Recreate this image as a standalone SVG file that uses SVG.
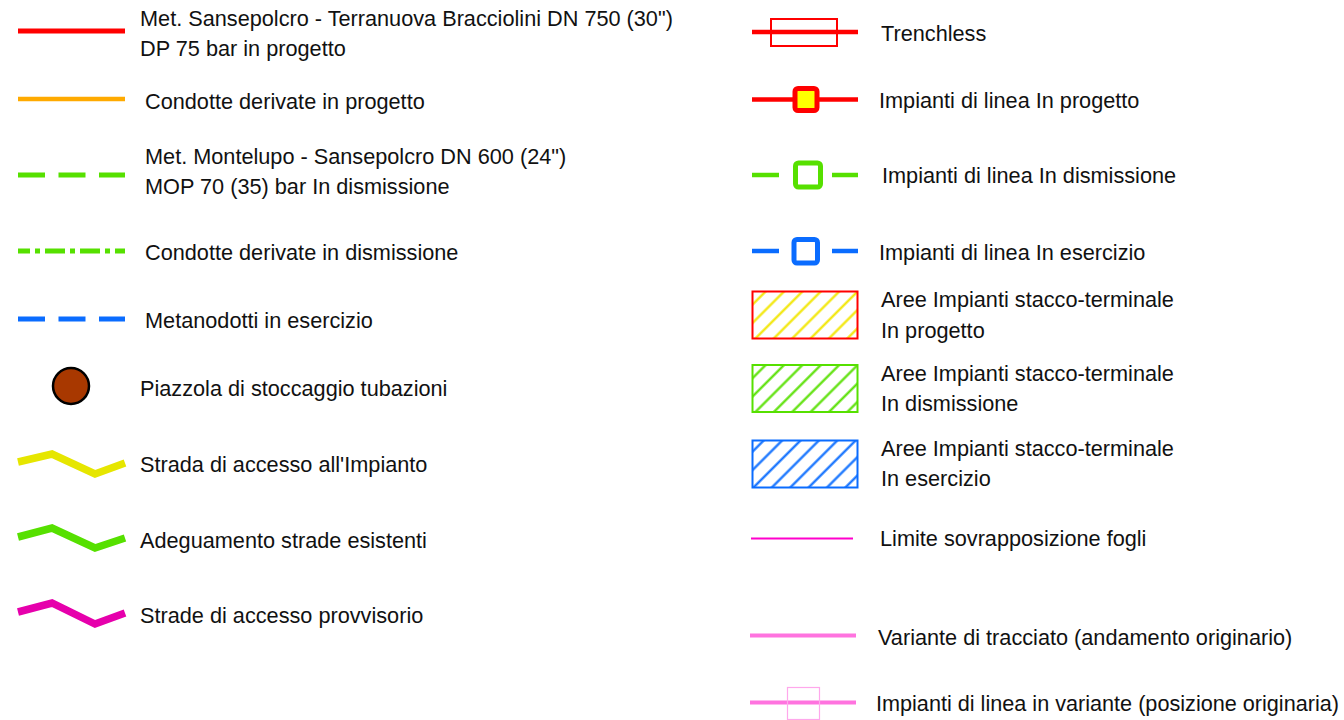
<svg xmlns="http://www.w3.org/2000/svg" width="1344" height="720" viewBox="0 0 1344 720">
<style>
text{font-family:"Liberation Sans",Arial,sans-serif;font-size:21.7px;fill:#111;}
.ln{fill:none;stroke-linecap:butt;}
.zig{fill:none;stroke-width:7.5;stroke-linejoin:miter;}
</style>
<defs>
<pattern id="hY" patternUnits="userSpaceOnUse" width="13" height="13" patternTransform="rotate(45)"><line x1="6.5" y1="-1" x2="6.5" y2="14" stroke="#f2e600" stroke-width="2.2"/></pattern>
<pattern id="hG" patternUnits="userSpaceOnUse" width="13" height="13" patternTransform="rotate(45)"><line x1="6.5" y1="-1" x2="6.5" y2="14" stroke="#56e000" stroke-width="2.2"/></pattern>
<pattern id="hB" patternUnits="userSpaceOnUse" width="13" height="13" patternTransform="rotate(45)"><line x1="6.5" y1="-1" x2="6.5" y2="14" stroke="#0a6cff" stroke-width="2.2"/></pattern>
</defs>
<rect width="1344" height="720" fill="#fff"/>

<g id="item-red-line">
<line class="ln" x1="18" y1="31" x2="125" y2="31" stroke="#ff0000" stroke-width="5"/>
<text x="140" y="26">Met. Sansepolcro - Terranuova Bracciolini DN 750 (30")</text>
<text x="140" y="56">DP 75 bar in progetto</text>
</g>
<g id="item-orange-line">
<line class="ln" x1="18" y1="99" x2="125" y2="99" stroke="#ffaa00" stroke-width="4.5"/>
<text x="145" y="109">Condotte derivate in progetto</text>
</g>
<g id="item-green-dash">
<line class="ln" x1="18" y1="175" x2="125" y2="175" stroke="#56e000" stroke-width="5" stroke-dasharray="27 13.5"/>
<text x="145" y="164">Met. Montelupo - Sansepolcro DN 600 (24")</text>
<text x="145" y="194">MOP 70 (35) bar In dismissione</text>
</g>
<g id="item-green-dashdot">
<line class="ln" x1="18" y1="251" x2="125" y2="251" stroke="#56e000" stroke-width="5" stroke-dasharray="20 5 5 5" stroke-dashoffset="8"/>
<text x="145" y="260">Condotte derivate in dismissione</text>
</g>
<g id="item-blue-dash">
<line class="ln" x1="18" y1="319" x2="125" y2="319" stroke="#0a6cff" stroke-width="5" stroke-dasharray="27 13.5"/>
<text x="145" y="328">Metanodotti in esercizio</text>
</g>
<g id="item-piazzola">
<circle cx="71" cy="386" r="18" fill="#a83800" stroke="#000" stroke-width="2.5"/>
<text x="140" y="396">Piazzola di stoccaggio tubazioni</text>
</g>
<g id="item-strada-accesso">
<polyline class="zig" points="18,462 52,454 95,474 125,463" stroke="#e6e600"/>
<text x="140" y="472">Strada di accesso all'Impianto</text>
</g>
<g id="item-adeguamento">
<polyline class="zig" points="18,537 52,528 95,548 125,538" stroke="#56e000"/>
<text x="140" y="548">Adeguamento strade esistenti</text>
</g>
<g id="item-provvisorio">
<polyline class="zig" points="18,612 52,603 95,624 125,613" stroke="#e600ac"/>
<text x="140" y="623">Strade di accesso provvisorio</text>
</g>

<g id="item-trenchless">
<line class="ln" x1="752" y1="32" x2="858" y2="32" stroke="#ff0000" stroke-width="4.5"/>
<rect x="771" y="19" width="66" height="27" fill="none" stroke="#ff0000" stroke-width="2"/>
<text x="881" y="41">Trenchless</text>
</g>
<g id="item-impianti-progetto">
<line class="ln" x1="752" y1="99.5" x2="858" y2="99.5" stroke="#ff0000" stroke-width="4.5"/>
<rect x="795" y="88.5" width="22" height="22" rx="3" fill="#ffff00" stroke="#ff0000" stroke-width="5"/>
<text x="879" y="108">Impianti di linea In progetto</text>
</g>
<g id="item-impianti-dismissione">
<line class="ln" x1="752" y1="175" x2="779" y2="175" stroke="#56e000" stroke-width="4.5"/>
<line class="ln" x1="832" y1="175" x2="858" y2="175" stroke="#56e000" stroke-width="4.5"/>
<rect x="795.5" y="163" width="25" height="24" rx="3" fill="#fff" stroke="#56e000" stroke-width="5"/>
<text x="882" y="183">Impianti di linea In dismissione</text>
</g>
<g id="item-impianti-esercizio">
<line class="ln" x1="752" y1="251" x2="779" y2="251" stroke="#0a6cff" stroke-width="4.5"/>
<line class="ln" x1="832" y1="251" x2="858" y2="251" stroke="#0a6cff" stroke-width="4.5"/>
<rect x="794" y="239.5" width="23.5" height="23.5" rx="3" fill="#fff" stroke="#0a6cff" stroke-width="5"/>
<text x="879" y="260">Impianti di linea In esercizio</text>
</g>
<g id="item-aree-progetto">
<rect x="752.5" y="291.5" width="105" height="47" fill="url(#hY)" stroke="#ff0000" stroke-width="2"/>
<text x="881" y="307">Aree Impianti stacco-terminale</text>
<text x="881" y="338">In progetto</text>
</g>
<g id="item-aree-dismissione">
<rect x="752.5" y="365" width="105" height="47" fill="url(#hG)" stroke="#56e000" stroke-width="2"/>
<text x="881" y="381">Aree Impianti stacco-terminale</text>
<text x="881" y="411">In dismissione</text>
</g>
<g id="item-aree-esercizio">
<rect x="752.5" y="440.5" width="105" height="47" fill="url(#hB)" stroke="#0a6cff" stroke-width="2"/>
<text x="881" y="456">Aree Impianti stacco-terminale</text>
<text x="881" y="486">In esercizio</text>
</g>
<g id="item-limite">
<line class="ln" x1="751" y1="538.5" x2="853" y2="538.5" stroke="#ff00cc" stroke-width="2"/>
<text x="880" y="546">Limite sovrapposizione fogli</text>
</g>
<g id="item-variante">
<line class="ln" x1="750" y1="635.5" x2="856" y2="635.5" stroke="#ff73df" stroke-width="4"/>
<text x="878" y="645">Variante di tracciato (andamento originario)</text>
</g>
<g id="item-impianti-variante">
<line class="ln" x1="750" y1="702.5" x2="856" y2="702.5" stroke="#ff73df" stroke-width="4"/>
<rect x="787.5" y="687.5" width="32" height="32" fill="none" stroke="#ffa8ec" stroke-width="1.2"/>
<text x="876" y="711" textLength="463" lengthAdjust="spacingAndGlyphs">Impianti di linea in variante (posizione originaria)</text>
</g>
<g id="connectors"/>
</svg>
